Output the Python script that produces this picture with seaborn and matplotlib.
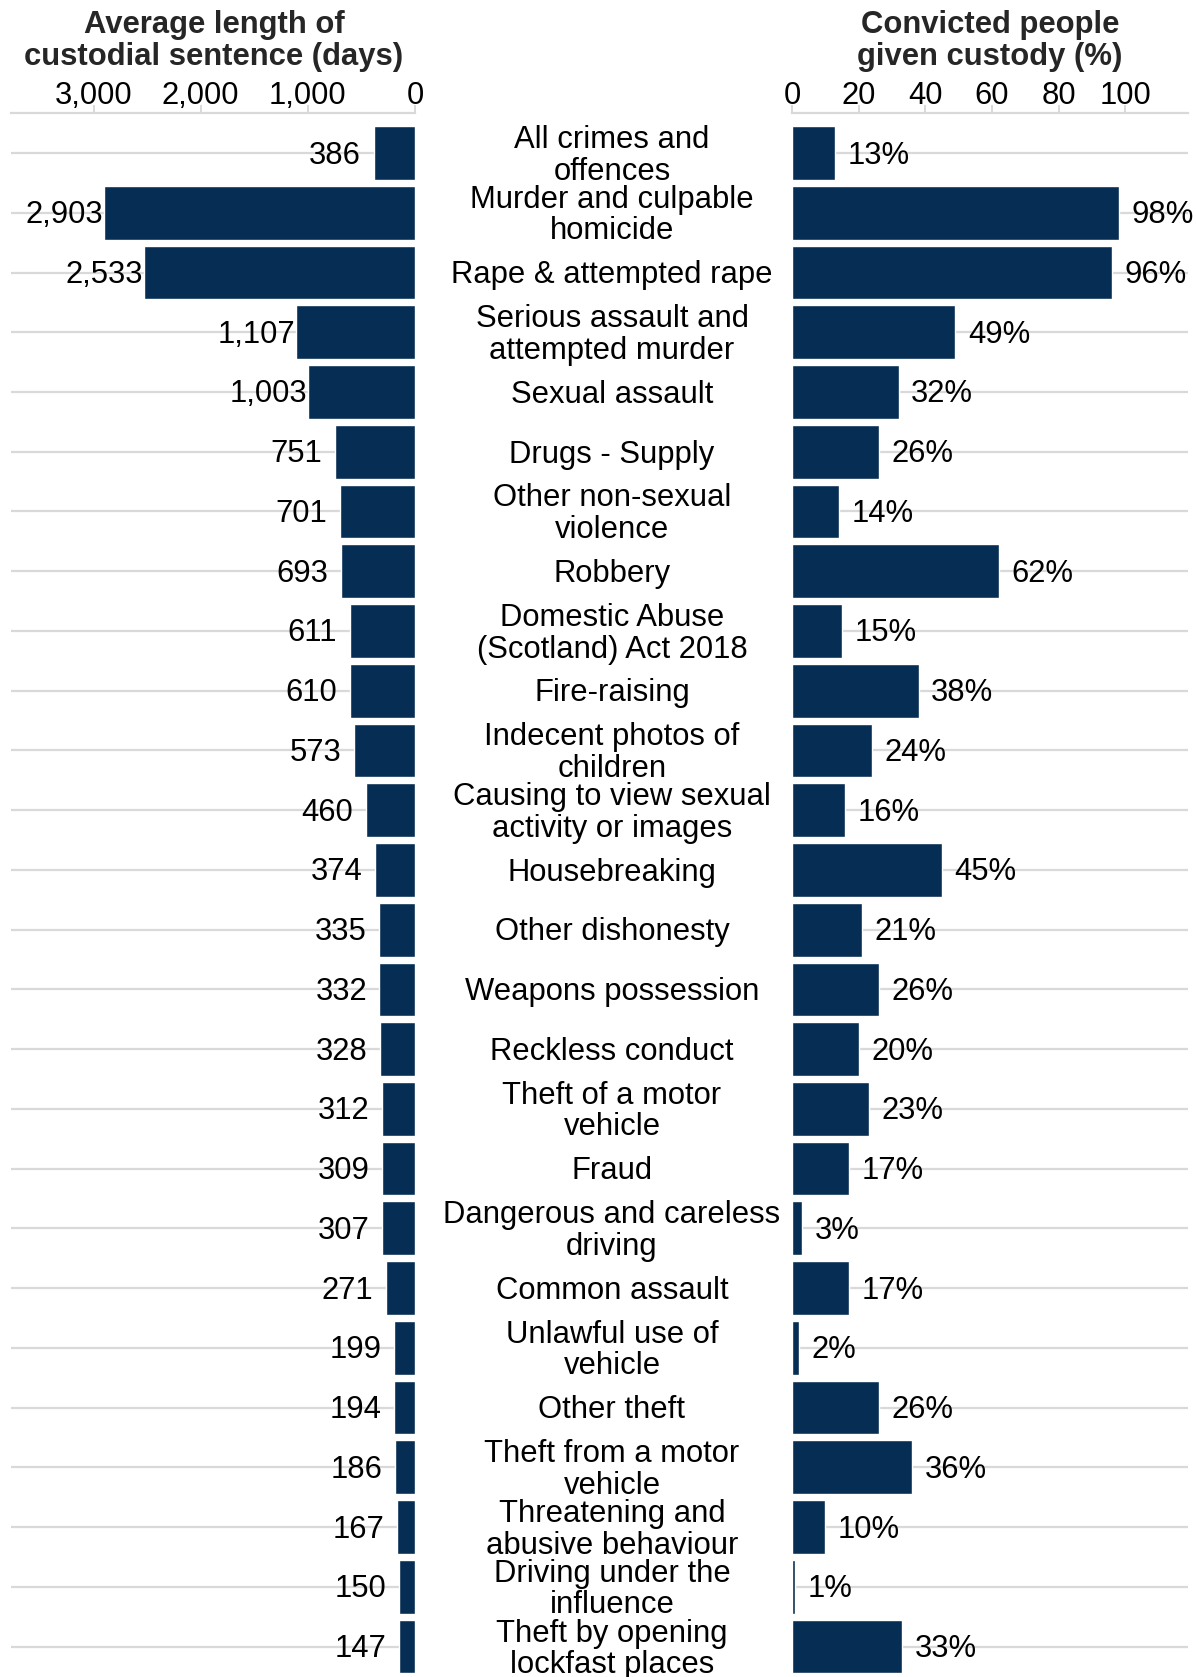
import matplotlib
matplotlib.use("Agg")
import matplotlib.pyplot as plt
import matplotlib.transforms as mtransforms
from matplotlib.ticker import FuncFormatter
import seaborn as sns
import pandas as pd

# Offence categories (display labels, with line breaks)
categories = [
    "All crimes and\noffences",
    "Murder and culpable\nhomicide",
    "Rape & attempted rape",
    "Serious assault and\nattempted murder",
    "Sexual assault",
    "Drugs - Supply",
    "Other non-sexual\nviolence",
    "Robbery",
    "Domestic Abuse\n(Scotland) Act 2018",
    "Fire-raising",
    "Indecent photos of\nchildren",
    "Causing to view sexual\nactivity or images",
    "Housebreaking",
    "Other dishonesty",
    "Weapons possession",
    "Reckless conduct",
    "Theft of a motor\nvehicle",
    "Fraud",
    "Dangerous and careless\ndriving",
    "Common assault",
    "Unlawful use of\nvehicle",
    "Other theft",
    "Theft from a motor\nvehicle",
    "Threatening and\nabusive behaviour",
    "Driving under the\ninfluence",
    "Theft by opening\nlockfast places",
]

# Average length of custodial sentence (days)
avg_days = [386, 2903, 2533, 1107, 1003, 751, 701, 693, 611, 610, 573, 460,
            374, 335, 332, 328, 312, 309, 307, 271, 199, 194, 186, 167, 150, 147]

# Convicted people given custody (%)
custody_pct = [13, 98, 96, 49, 32, 26, 14, 62, 15, 38, 24, 16,
               45, 21, 26, 20, 23, 17, 3, 17, 2, 26, 36, 10, 1, 33]

left_ticks = [0, 1000, 2000, 3000]
right_ticks = [0, 20, 40, 60, 80, 100]

df = pd.DataFrame({"category": categories, "days": avg_days, "pct": custody_pct})

sns.set_theme(style="white")
plt.rcParams["font.family"] = ["Liberation Sans", "DejaVu Sans"]

NAVY = "#062d53"
GRID = "#d9d9d9"
FS = 22.3

W, H = 1196, 1677
fig = plt.figure(figsize=(W / 100, H / 100), dpi=100)

top_px = 113
axL = fig.add_axes([11 / W, 0, (415 - 11) / W, 1 - top_px / H])
axR = fig.add_axes([792 / W, 0, (1188 - 792) / W, 1 - top_px / H])

sns.barplot(data=df, x="days", y="category", ax=axL, color=NAVY,
            width=0.9, saturation=1, orient="h", zorder=3)
sns.barplot(data=df, x="pct", y="category", ax=axR, color=NAVY,
            width=0.9, saturation=1, orient="h", zorder=3)

n = len(categories)
for ax in (axL, axR):
    ax.set_ylim(n - 0.49, -0.67)
    ax.set_xlabel("")
    ax.set_ylabel("")
    ax.set_yticks([])
    for s in ("left", "right", "bottom"):
        ax.spines[s].set_visible(False)
    ax.spines["top"].set_color(GRID)
    ax.spines["top"].set_linewidth(1.6)
    ax.xaxis.set_ticks_position("top")
    ax.tick_params(axis="x", which="both", top=True, bottom=False,
                   labeltop=True, labelbottom=False, length=5.5, width=1.4,
                   color=GRID, pad=-4, labelsize=FS, labelcolor="black")
    for i in range(n):
        ax.axhline(i, color=GRID, lw=1.6, zorder=1)
    ax.set_facecolor("none")

axL.set_xlim(3770, 0)
axL.set_xticks(left_ticks)
axL.xaxis.set_major_formatter(FuncFormatter(lambda v, p: f"{int(v):,}"))
axR.set_xlim(0, 118.8)
axR.set_xticks(right_ticks)

# Value labels
for i, v in enumerate(avg_days):
    pad = 0.5 if v >= 1000 else 9
    axL.annotate(f"{v:,}", xy=(v, i), xytext=(-pad, -1.8), textcoords="offset points",
                 ha="right", va="center", fontsize=FS, color="black",
                 annotation_clip=False, zorder=4)
for i, v in enumerate(custody_pct):
    axR.annotate(f"{v}%", xy=(v, i), xytext=(9, -1.8), textcoords="offset points",
                 ha="left", va="center", fontsize=FS, color="black",
                 annotation_clip=False, zorder=4)

# Category labels in the central gutter
trans = mtransforms.blended_transform_factory(fig.transFigure, axL.transData)
trans = trans + mtransforms.ScaledTranslation(0, -2 / 72, fig.dpi_scale_trans)
for i, c in enumerate(categories):
    fig.text(612 / W, i, c, transform=trans, ha="center", va="center",
             fontsize=FS, color="black", linespacing=1.07)

# Panel titles
fig.text(214 / W, 1 - 41 / H, "Average length of\ncustodial sentence (days)",
         ha="center", va="center", fontsize=FS, fontweight="bold", linespacing=1.1)
fig.text(990 / W, 1 - 41 / H, "Convicted people\ngiven custody (%)",
         ha="center", va="center", fontsize=FS, fontweight="bold", linespacing=1.1)

fig.savefig("out.png", dpi=100, facecolor="white")
